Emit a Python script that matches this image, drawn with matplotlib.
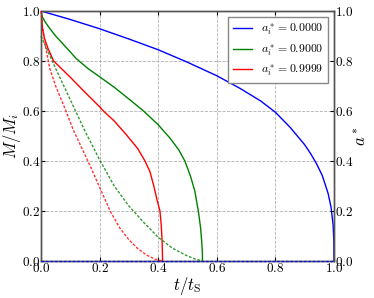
import numpy as np
import matplotlib
matplotlib.use("Agg")
import matplotlib.pyplot as plt

plt.rcParams['font.family'] = 'serif'
plt.rcParams['font.serif'] = ['cmr10']
plt.rcParams['mathtext.fontset'] = 'cm'
plt.rcParams['axes.formatter.use_mathtext'] = True

# Mass curves M/M_i (solid)
t_m0 = [0, 0.1, 0.2, 0.3, 0.4, 0.5, 0.6, 0.68, 0.75, 0.8, 0.85, 0.9, 0.92, 0.94, 0.96, 0.98, 0.99,
        0.997, 0.9995, 1.0]
m_m0 = [1.0, 0.966, 0.929, 0.888, 0.845, 0.795, 0.741, 0.69, 0.64, 0.595, 0.535, 0.465, 0.43, 0.39,
        0.342, 0.27, 0.215, 0.145, 0.08, 0.0]

t_m9 = [0, 0.005, 0.015, 0.03, 0.05, 0.08, 0.12, 0.16, 0.2, 0.25, 0.3, 0.35, 0.4, 0.44, 0.47,
        0.491, 0.51, 0.525, 0.537, 0.545, 0.549, 0.551, 0.551]
m_m9 = [1.0, 0.975, 0.955, 0.93, 0.90, 0.862, 0.81, 0.77, 0.737, 0.695, 0.648, 0.60, 0.545, 0.492, 0.445,
        0.40, 0.34, 0.28, 0.2, 0.13, 0.07, 0.03, 0.0]

t_m99 = [0, 0.005, 0.012, 0.024, 0.043, 0.065, 0.1, 0.15, 0.2, 0.213, 0.25, 0.292, 0.33, 0.355, 0.372,
         0.385, 0.396, 0.406, 0.41, 0.413, 0.4145, 0.415]
m_m99 = [1.0, 0.93, 0.89, 0.85, 0.80, 0.775, 0.735, 0.675, 0.617, 0.6, 0.56, 0.504, 0.45, 0.4, 0.357,
         0.3, 0.245, 0.2, 0.15, 0.09, 0.03, 0.0]

# Spin curves a* (dashed)
t_a0 = [0, 1.0]
a_a0 = [0, 0]

t_a9 = [0, 0.05, 0.1, 0.15, 0.2, 0.25, 0.3, 0.35, 0.4, 0.45, 0.5, 0.53, 0.551]
a_a9 = [0.90, 0.77, 0.645, 0.52, 0.405, 0.30, 0.22, 0.155, 0.095, 0.05, 0.02, 0.006, 0.0]

t_a99 = [0, 0.005, 0.015, 0.03, 0.05, 0.08, 0.11, 0.14, 0.17, 0.2, 0.236, 0.27, 0.3, 0.33, 0.36, 0.39, 0.414]
a_a99 = [0.9999, 0.94, 0.86, 0.77, 0.70, 0.615, 0.525, 0.45, 0.375, 0.295, 0.2, 0.13, 0.085, 0.05, 0.024, 0.007, 0.0]

labels = [r'$a_i^* = 0.0000$', r'$a_i^* = 0.9000$', r'$a_i^* = 0.9999$']
colors = ['b', 'g', 'r']

fig = plt.figure(figsize=(3.74, 2.98), dpi=100)
ax = fig.add_axes([0.1096, 0.1242, 0.7834, 0.8389])
ax2 = ax.twinx()

mass = [(t_m0, m_m0), (t_m9, m_m9), (t_m99, m_m99)]
spin = [(t_a0, a_a0), (t_a9, a_a9), (t_a99, a_a99)]

for (tm, mm), (ta, aa), c, lab in zip(mass, spin, colors, labels):
    ax.plot(tm, mm, color=c, lw=1.0, label=lab)
    ax2.plot(ta, aa, color=c, lw=1.0, dashes=(2, 1.2), alpha=0.8, zorder=3, clip_on=False)

ax.set_xlim(0, 1)
ax.set_ylim(0, 1)
ax2.set_ylim(0, 1)
ax.set_xticks(np.arange(0, 1.01, 0.2))
ax.set_yticks(np.arange(0, 1.01, 0.2))
ax2.set_yticks(np.arange(0, 1.01, 0.2))

ax.grid(True, color='#b0b0b0', ls='--', lw=0.6)
ax.tick_params(axis='y', direction='in', length=3, labelsize=9.5, pad=0.5)
ax.tick_params(axis='x', direction='in', length=3, labelsize=9.5, pad=0.5, top=True)
ax2.tick_params(direction='in', length=3, labelsize=9.5, pad=0.5)

for a in (ax, ax2):
    for s in a.spines.values():
        s.set_color('#555555')
        s.set_linewidth(1.0)

ax.set_xlabel(r'$t/t_{\rm S}$', fontsize=12, labelpad=0)
ax.set_ylabel(r'$M/M_i$', fontsize=12)
ax.yaxis.set_label_coords(-0.06, 0.5)
ax2.set_ylabel(r'$a^*$', fontsize=12)
ax2.yaxis.set_label_coords(1.06, 0.5)

leg = ax.legend(loc='upper right', fontsize=8.5, fancybox=False, handlelength=1.6,
                handletextpad=0.8, borderaxespad=0.5, labelspacing=0.4, framealpha=1)
leg.get_frame().set_edgecolor('#888888')
leg.get_frame().set_linewidth(1.0)

fig.savefig('out.png', dpi=100)
